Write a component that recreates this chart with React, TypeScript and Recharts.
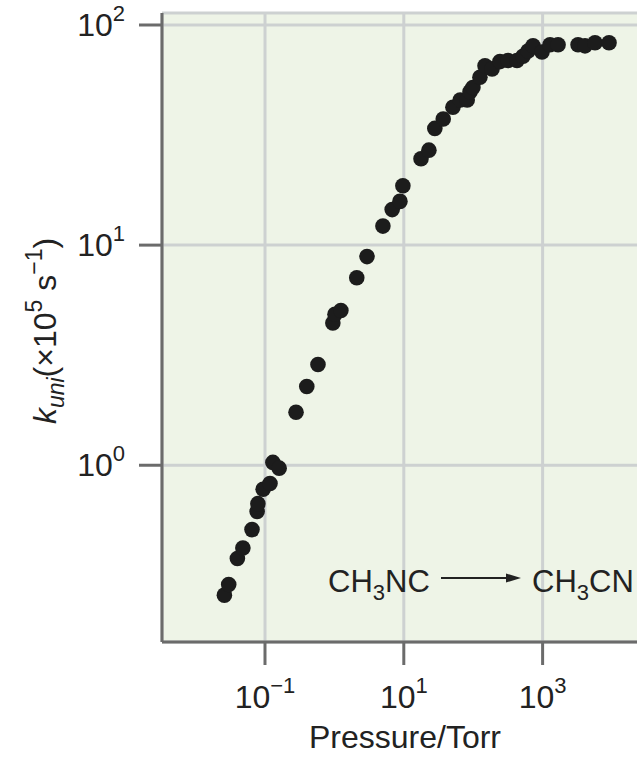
import { ScatterChart, Scatter, XAxis, YAxis, CartesianGrid } from 'recharts';

// pressure (Torr) and k_uni (x10^5 s^-1)
const pressure = [
  0.026, 0.030, 0.040, 0.048, 0.065, 0.077, 0.079, 0.094, 0.118, 0.13, 0.16, 0.28,
  0.40, 0.58, 0.95, 1.02, 1.24, 2.1, 2.95, 5.0, 6.8, 8.8, 9.7, 17.7,
  23, 28, 37, 51, 65, 82, 90, 99, 125, 148, 187, 243,
  317, 428, 522, 617, 728, 980, 1280, 1670, 3240, 4080, 5690, 9060,
];
const kUni = [
  0.257, 0.287, 0.377, 0.421, 0.51, 0.617, 0.669, 0.778, 0.826, 1.03, 0.97, 1.74,
  2.28, 2.87, 4.43, 4.85, 5.05, 7.11, 8.87, 12.2, 14.5, 15.8, 18.6, 24.7,
  27.0, 33.9, 37.4, 42.3, 45.6, 45.6, 49.8, 52.0, 57.9, 65.3, 63.2, 68.2,
  69.0, 69.0, 72.1, 76.2, 80.4, 75.4, 81.3, 81.3, 81.3, 80.4, 83.0, 83.0,
];
const xTicks = [0.1, 10, 1000];
const yTicks = [1, 10, 100];

const data = pressure.map((p, i) => ({ p, k: kUni[i] }));

const FONT = 'Liberation Sans, Arial, Helvetica, sans-serif';
const TEXT = '#222';
const AXIS = '#6b6b6b';
const GRID = '#cdd1d1';

const expLabel = (v: number) => {
  const e = Math.round(Math.log10(v));
  return e < 0 ? '\u2212' + Math.abs(e) : String(e);
};

const YTick = ({ x, y, payload }: any) => (
  <text x={x} y={y + 11} textAnchor="end" fontSize={32} fill={TEXT} fontFamily={FONT}>
    10<tspan dy={-15} fontSize={22}>{expLabel(payload.value)}</tspan>
  </text>
);

const XTick = ({ x, y, payload }: any) => (
  <text x={x} y={y + 43} textAnchor="middle" fontSize={32} fill={TEXT} fontFamily={FONT}>
    10<tspan dy={-15} fontSize={22}>{expLabel(payload.value)}</tspan>
  </text>
);

const Dot = (props: any) => <circle cx={props.cx} cy={props.cy} r={7.8} fill="#1c1c1c" />;

export default function App() {
  return (
    <div style={{ position: 'absolute', left: 0, top: 0, width: 637, height: 757, overflow: 'hidden', background: '#fff' }}>
      <ScatterChart width={720} height={757} margin={{ top: 13, right: 0, bottom: 0, left: 0 }}>
        <CartesianGrid fill="#eef4e7" fillOpacity={1} stroke={GRID} strokeWidth={3} />
        <XAxis
          type="number"
          dataKey="p"
          scale="log"
          domain={[10 ** -2.484, 10 ** 5.556]}
          allowDataOverflow
          ticks={xTicks}
          height={115}
          tickSize={23}
          tickMargin={0}
          axisLine={{ stroke: AXIS, strokeWidth: 3 }}
          tickLine={{ stroke: AXIS, strokeWidth: 3 }}
          tick={<XTick />}
        />
        <YAxis
          type="number"
          dataKey="k"
          scale="log"
          domain={[10 ** -0.803, 10 ** 2.0545]}
          allowDataOverflow
          ticks={yTicks}
          width={162}
          tickSize={23}
          tickMargin={14}
          axisLine={{ stroke: AXIS, strokeWidth: 3 }}
          tickLine={{ stroke: AXIS, strokeWidth: 3 }}
          tick={<YTick />}
        />
        <Scatter data={data} shape={<Dot />} isAnimationActive={false} />

        <text x={405} y={748} textAnchor="middle" fontSize={32} fill={TEXT} fontFamily={FONT}>
          Pressure/Torr
        </text>
        <text
          transform="translate(56,331) rotate(-90)"
          textAnchor="middle"
          fontSize={32}
          fill={TEXT}
          fontFamily={FONT}
        >
          <tspan fontStyle="italic">k</tspan>
          <tspan fontStyle="italic" fontSize={23} dy={8}>uni</tspan>
          <tspan dy={-8}>(×10</tspan>
          <tspan fontSize={23} dy={-14}>5</tspan>
          <tspan dy={14}> s</tspan>
          <tspan fontSize={23} dy={-14}>{'\u2212'}1</tspan>
          <tspan dy={14}>)</tspan>
        </text>

        <text x={328} y={592} fontSize={31} fill={TEXT} fontFamily={FONT}>
          CH<tspan fontSize={22} dy={8}>3</tspan>
          <tspan dy={-8}>NC</tspan>
        </text>
        <line x1={441} y1={578} x2={510} y2={578} stroke={TEXT} strokeWidth={2} />
        <polygon points="521,578 506,573.5 506,582.5" fill={TEXT} />
        <text x={532} y={592} fontSize={31} fill={TEXT} fontFamily={FONT}>
          CH<tspan fontSize={22} dy={8}>3</tspan>
          <tspan dy={-8}>CN</tspan>
        </text>
      </ScatterChart>
    </div>
  );
}
